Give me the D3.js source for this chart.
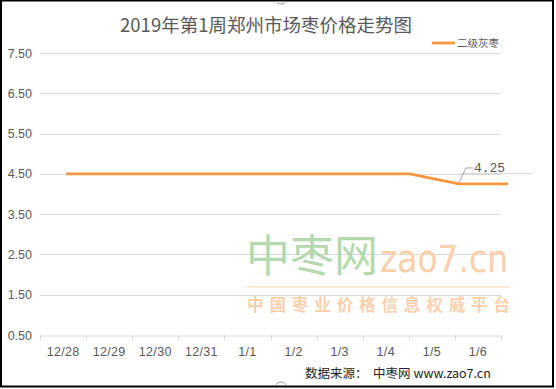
<!DOCTYPE html>
<html>
<head>
<meta charset="utf-8">
<script src="https://cdn.jsdelivr.net/npm/d3@7/dist/d3.min.js"></script>
<style>
html,body{margin:0;padding:0;background:#fff;}
svg{display:block;}
</style>
</head>
<body>
<svg id="chart" width="556" height="389"></svg>
<script>
const title = "2019年第1周郑州市场枣价格走势图";
const categories = ["12/28","12/29","12/30","12/31","1/1","1/2","1/3","1/4","1/5","1/6"];
const seriesName = "二级灰枣";
const values = [4.5,4.5,4.5,4.5,4.5,4.5,4.5,4.5,4.25,4.25];
const yTicks = [0.5,1.5,2.5,3.5,4.5,5.5,6.5,7.5];
const labelIndex = 8;
const sourceText = "数据来源：  中枣网 www.zao7.cn";

(function(){
const svg = d3.select("#chart");
const W = 556, H = 389;
const pl = 40, pr = 501, pt = 53, pb = 335;
const font = "'Noto Sans CJK SC','Liberation Sans',sans-serif";
const grey = "#595959";

svg.append("rect").attr("width", W).attr("height", H).attr("fill", "#fff");

const x = d3.scaleBand().domain(categories).range([pl, pr]).padding(0);
const xLine = d3.scalePoint().domain(categories).range([66, 508]);
const y = d3.scaleLinear().domain([0.5, 7.5]).range([pb, pt]);

// gridlines
svg.append("g").selectAll("line").data(yTicks.filter(d => d > 0.5)).join("line")
  .attr("x1", pl).attr("x2", pr)
  .attr("y1", d => Math.round(y(d)) + 0.5).attr("y2", d => Math.round(y(d)) + 0.5)
  .attr("stroke", "#d9d9d9").attr("stroke-width", 1);

// y axis labels
const yAxis = d3.axisLeft(y).tickValues(yTicks).tickFormat(d3.format(".2f")).tickSize(0).tickPadding(8);
const yg = svg.append("g").attr("transform", `translate(${pl},0)`).call(yAxis);
yg.select(".domain").remove();
yg.selectAll("text").attr("fill", grey).attr("font-size", 12.5).attr("font-family", "'Liberation Sans',sans-serif").attr("x", -8);

// x axis
const xAxis = d3.axisBottom(x).tickSize(0).tickPadding(12);
const xg = svg.append("g").attr("transform", `translate(0,${pb + 0.5})`).call(xAxis);
xg.select(".domain").attr("stroke", "#d9d9d9");
xg.selectAll("text").attr("fill", grey).attr("font-size", 12.5).attr("font-family", "'Liberation Sans',sans-serif")
  .attr("letter-spacing", 0.3);
// band-edge ticks
const edges = categories.map(c => x(c)).concat([x(categories[categories.length-1]) + x.bandwidth()]);
svg.append("g").selectAll("line").data(edges).join("line")
  .attr("x1", d => Math.round(d) + 0.5).attr("x2", d => Math.round(d) + 0.5)
  .attr("y1", pb).attr("y2", pb + 5)
  .attr("stroke", "#d9d9d9");

// watermark
const wm = svg.append("g");
wm.append("text").attr("x", 246).attr("y", 272).text("中枣网")
  .attr("font-family", font).attr("font-size", 44).attr("fill", "#a8d3a0").attr("fill-opacity", 0.85);
wm.append("text").attr("x", 380).attr("y", 272).text("zao7.cn")
  .attr("font-family", "'DejaVu Sans',sans-serif").attr("font-size", 38).attr("fill", "#fbcfaa")
  .attr("textLength", 128).attr("lengthAdjust", "spacingAndGlyphs");
wm.append("line").attr("x1", 247).attr("x2", 510).attr("y1", 287).attr("y2", 287)
  .attr("stroke", "#fbd3b2").attr("stroke-width", 1.2);
wm.append("text").attr("x", 247).attr("y", 311).text("中国枣业价格信息权威平台")
  .attr("font-family", font).attr("font-size", 16.5).attr("font-weight", "bold").attr("fill", "#fbd0ad")
  .attr("textLength", 263).attr("lengthAdjust", "spacing");

// line
const line = d3.line().x((d, i) => xLine(categories[i])).y(d => y(d));
svg.append("path").datum(values).attr("d", line)
  .attr("fill", "none").attr("stroke", "#f7963e").attr("stroke-width", 2.8)
  .attr("stroke-linejoin", "round");

// data label with leader
const px = xLine(categories[labelIndex]), py = y(values[labelIndex]);
svg.append("line").attr("x1", 460).attr("x2", 533).attr("y1", Math.round(y(4.5)) - 0.5).attr("y2", Math.round(y(4.5)) - 0.5)
  .attr("stroke", "#d9d9d9").attr("stroke-width", 1);
svg.append("path").attr("d", `M${px},${py - 1} L${px + 7},${py - 16} L${px + 14},${py - 16}`)
  .attr("fill", "none").attr("stroke", "#a6a6a6").attr("stroke-width", 1);
svg.append("text").attr("x", px + 15).attr("y", py - 12).text(values[labelIndex].toFixed(2))
  .attr("font-family", "'Liberation Mono','DejaVu Sans Mono',monospace").attr("font-size", 13).attr("fill", grey);

// title
svg.append("text").attr("x", 266).attr("y", 32).attr("text-anchor", "middle").text(title)
  .attr("font-family", font).attr("font-size", 18.5).attr("fill", grey);

// legend
svg.append("line").attr("x1", 432).attr("x2", 455).attr("y1", 43).attr("y2", 43)
  .attr("stroke", "#f7963e").attr("stroke-width", 2.8);
svg.append("text").attr("x", 457).attr("y", 47).text(seriesName)
  .attr("font-family", font).attr("font-size", 10.5).attr("fill", grey);

// source
svg.append("text").attr("x", 305).attr("y", 378).text(sourceText)
  .attr("font-family", font).attr("font-size", 12.5).attr("fill", "#222")
  .attr("xml:space", "preserve").style("white-space", "pre");

// frame
svg.append("rect").attr("x", 1).attr("y", 0.5).attr("width", 552).attr("height", 386)
  .attr("fill", "none").attr("stroke", "#000").attr("stroke-width", 2);
svg.append("path").attr("d", "M276,386 A5,4 0 0 1 286,386").attr("fill", "none").attr("stroke", "#999");
svg.append("path").attr("d", "M276,1 A5,3 0 0 0 286,1").attr("fill", "none").attr("stroke", "#999");
})();
</script>
</body>
</html>
